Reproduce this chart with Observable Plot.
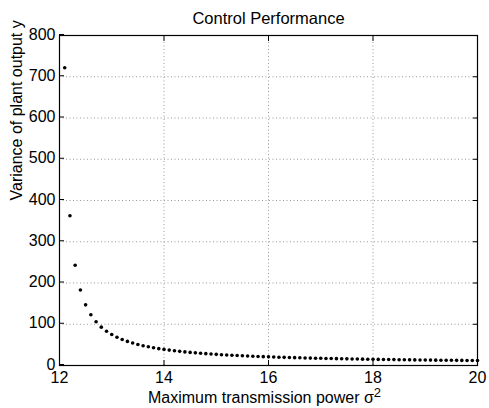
<!DOCTYPE html>
<html>
<head>
<meta charset="utf-8">
<script src="https://cdn.jsdelivr.net/npm/d3@7"></script>
<script src="https://cdn.jsdelivr.net/npm/@observablehq/plot@0.6"></script>
<style>
  html, body { margin: 0; padding: 0; background: #fff; }
  svg { display: block; }
</style>
</head>
<body>
<div id="chart"></div>
<script>
const title = "Control Performance";
const xLabel = "Maximum transmission power σ";
const xLabelSup = "2";
const yLabel = "Variance of plant output y";
const xTicks = [12, 14, 16, 18, 20];
const yTicks = [0, 100, 200, 300, 400, 500, 600, 700, 800];

const power = [
  12.1, 12.2, 12.3, 12.4, 12.5, 12.6, 12.7, 12.8, 12.9, 13.0,
  13.1, 13.2, 13.3, 13.4, 13.5, 13.6, 13.7, 13.8, 13.9, 14.0,
  14.1, 14.2, 14.3, 14.4, 14.5, 14.6, 14.7, 14.8, 14.9, 15.0,
  15.1, 15.2, 15.3, 15.4, 15.5, 15.6, 15.7, 15.8, 15.9, 16.0,
  16.1, 16.2, 16.3, 16.4, 16.5, 16.6, 16.7, 16.8, 16.9, 17.0,
  17.1, 17.2, 17.3, 17.4, 17.5, 17.6, 17.7, 17.8, 17.9, 18.0,
  18.1, 18.2, 18.3, 18.4, 18.5, 18.6, 18.7, 18.8, 18.9, 19.0,
  19.1, 19.2, 19.3, 19.4, 19.5, 19.6, 19.7, 19.8, 19.9, 20.0
];
const variance = [
  722, 363, 243, 183, 147, 123, 106, 93, 83, 75,
  68.5, 63, 58.4, 54.4, 51, 48, 45.4, 43, 40.9, 39,
  37.3, 35.7, 34.3, 33, 31.8, 30.7, 29.7, 28.7, 27.8, 27,
  26.2, 25.5, 24.8, 24.2, 23.6, 23, 22.5, 21.9, 21.5, 21,
  20.6, 20.1, 19.7, 19.4, 19, 18.7, 18.3, 18, 17.7, 17.4,
  17.1, 16.8, 16.6, 16.3, 16.1, 15.9, 15.6, 15.4, 15.2, 15,
  14.8, 14.6, 14.4, 14.25, 14.1, 13.9, 13.7, 13.6, 13.4, 13.3,
  13.1, 13, 12.9, 12.7, 12.6, 12.5, 12.35, 12.2, 12.1, 12
];

const data = power.map((p, i) => ({p, v: variance[i]}));
const gridX = xTicks.slice(1, -1);
const gridY = yTicks.slice(1, -1);

const chart = Plot.plot({
  width: 489,
  height: 408,
  marginLeft: 59,
  marginRight: 12,
  marginTop: 35,
  marginBottom: 43,
  style: {fontFamily: "'Liberation Sans', Arial, Helvetica, sans-serif", fontSize: "16px", color: "#000", background: "#fff"},
  x: {domain: [12, 20]},
  y: {domain: [0, 800]},
  marks: [
    Plot.ruleX(gridX, {stroke: "#999", strokeDasharray: "1,2.5", strokeWidth: 1}),
    Plot.ruleY(gridY, {stroke: "#999", strokeDasharray: "1,2.5", strokeWidth: 1}),
    Plot.frame({stroke: "#000", strokeWidth: 1.2}),
    Plot.axisX(xTicks, {anchor: "bottom", tickSize: -5, tickPadding: 11, label: null, fontSize: 16}),
    Plot.axisX(xTicks, {anchor: "top", tickSize: -5, tickFormat: () => "", label: null}),
    Plot.axisY(yTicks, {anchor: "left", tickSize: -5, tickPadding: 9, dy: -1, label: null, fontSize: 16}),
    Plot.axisY(yTicks, {anchor: "right", tickSize: -5, tickFormat: () => "", label: null}),
    Plot.dot(data, {x: "p", y: "v", r: 1.8, fill: "#000", stroke: null}),
    Plot.text([title], {frameAnchor: "top", dy: -23, fontSize: 16.5}),
    Plot.text([xLabel], {frameAnchor: "bottom", dy: 37, dx: -4, fontSize: 16, className: "xlab"}),
    Plot.text([yLabel], {frameAnchor: "left", dx: -43, rotate: -90, fontSize: 16})
  ]
});
// add superscript 2 to the x label as a real tspan
d3.select(chart).selectAll(".xlab text").each(function() {
  d3.select(this).append("tspan").attr("dy", "-0.45em").attr("font-size", "13px").text(xLabelSup);
});
document.getElementById("chart").appendChild(chart);
</script>
</body>
</html>
